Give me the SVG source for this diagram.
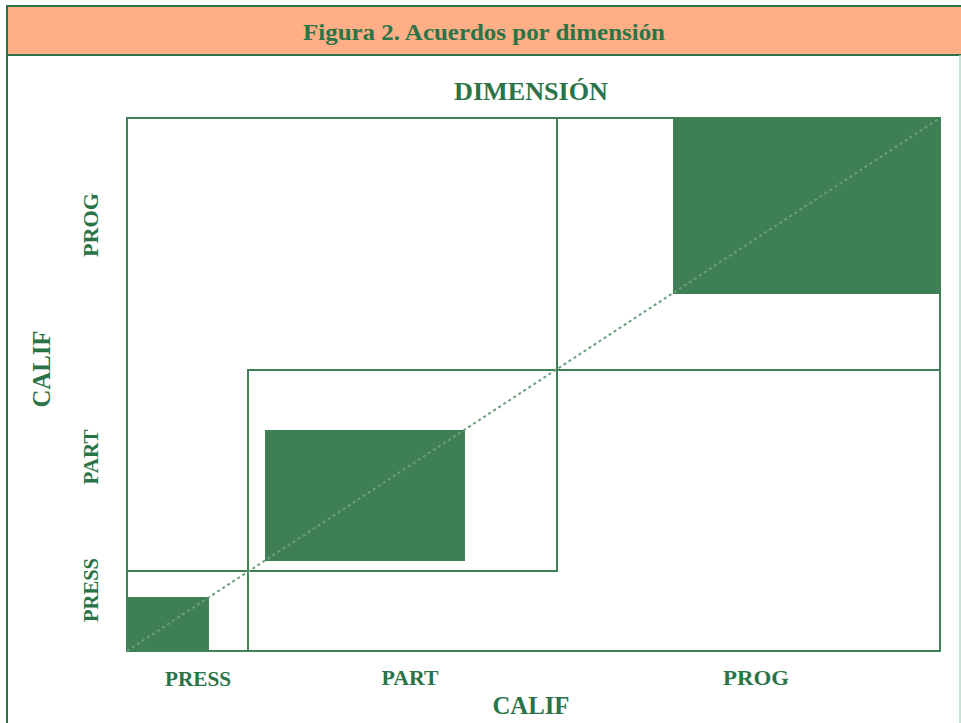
<svg xmlns="http://www.w3.org/2000/svg" width="961" height="723" viewBox="0 0 961 723">
<style>
.t{font-family:"Liberation Serif","DejaVu Serif",serif;font-weight:bold;fill:#2b7447;text-anchor:middle}
.ln{fill:none;stroke:#3f7f56;stroke-width:2}
.fill{fill:#3f7f56}
</style>
<rect x="0" y="0" width="961" height="723" fill="#ffffff"/>
<g id="frame">
<rect x="7" y="6" width="954" height="49" fill="#ffae85"/>
<line x1="7" y1="6" x2="961" y2="6" stroke="#2e7048" stroke-width="2"/>
<line x1="7" y1="55" x2="961" y2="55" stroke="#2e7048" stroke-width="2"/>
<line x1="7" y1="5" x2="7" y2="723" stroke="#2e7048" stroke-width="2"/>
<line x1="960" y1="55" x2="960" y2="723" stroke="#b5d6c2" stroke-width="1.5"/>
<text class="t" x="484" y="40" font-size="23.5" textLength="362" lengthAdjust="spacingAndGlyphs">Figura 2. Acuerdos por dimensión</text>
</g>
<g id="cells">
<rect id="press-fill" class="fill" x="127" y="597" width="82" height="54"/>
<rect id="part-fill" class="fill" x="265" y="430" width="200" height="131"/>
<rect id="prog-fill" class="fill" x="673" y="117" width="267" height="177"/>
</g>
<g id="grid">
<rect class="ln" x="127" y="118" width="813" height="533"/>
<rect class="ln" x="127" y="118" width="430" height="453"/>
<rect class="ln" x="248" y="370" width="692" height="281"/>
</g>
<g id="connectors">
<line x1="127" y1="651" x2="940" y2="118" stroke="#6a9f7c" stroke-width="2" stroke-dasharray="3 3"/>
</g>
<g id="labels">
<text class="t" x="531" y="100" font-size="25" textLength="154" lengthAdjust="spacingAndGlyphs">DIMENSIÓN</text>
<text class="t" x="198" y="686" font-size="20" textLength="66" lengthAdjust="spacingAndGlyphs">PRESS</text>
<text class="t" x="410" y="685" font-size="20" textLength="57" lengthAdjust="spacingAndGlyphs">PART</text>
<text class="t" x="756" y="685" font-size="20" textLength="66" lengthAdjust="spacingAndGlyphs">PROG</text>
<text class="t" x="531" y="714" font-size="25" textLength="77" lengthAdjust="spacingAndGlyphs">CALIF</text>
<text class="t" transform="translate(98,225) rotate(-90)" font-size="20" textLength="64" lengthAdjust="spacingAndGlyphs">PROG</text>
<text class="t" transform="translate(98,457) rotate(-90)" font-size="20" textLength="55" lengthAdjust="spacingAndGlyphs">PART</text>
<text class="t" transform="translate(98,590) rotate(-90)" font-size="20" textLength="64" lengthAdjust="spacingAndGlyphs">PRESS</text>
<text class="t" transform="translate(50,369) rotate(-90)" font-size="25" textLength="77" lengthAdjust="spacingAndGlyphs">CALIF</text>
</g>
</svg>
